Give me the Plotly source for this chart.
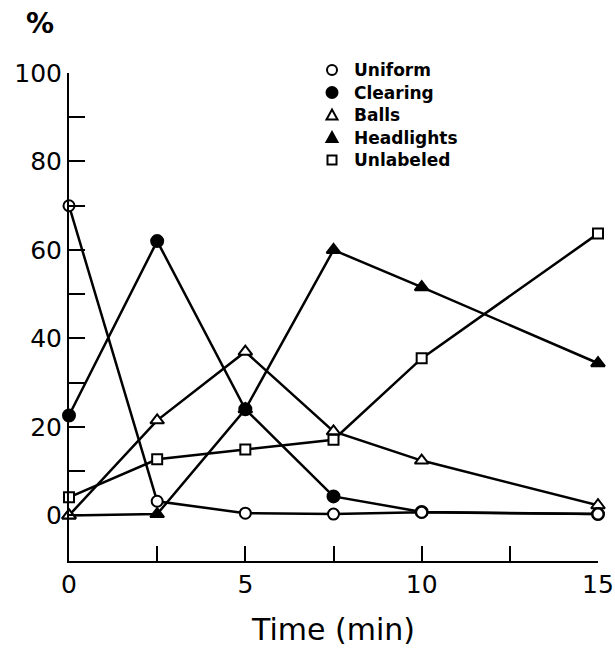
import plotly.graph_objects as go

time_min = [0, 2.5, 5, 7.5, 10, 15]
uniform = [70, 3.2, 0.5, 0.3, 0.7, 0.3]
clearing = [22.6, 62, 24, 4.3, 0.8, 0.3]
balls = [0, 21.5, 37, 19, 12.4, 2.3]
headlights = [0, 0.3, 24, 60, 51.6, 34.4]
unlabeled = [4.1, 12.7, 14.9, 17.1, 35.5, 63.7]

series_names = ["Uniform", "Clearing", "Balls", "Headlights", "Unlabeled"]
x_tickvals = [0, 2.5, 5, 7.5, 10, 12.5, 15]
x_ticktext = ["0", "", "5", "", "10", "", "15"]
y_tickvals = [0, 10, 20, 30, 40, 50, 60, 70, 80, 90, 100]
y_ticktext = ["0", "", "20", "", "40", "", "60", "", "80", "", "100"]

styles = {
    "Uniform": dict(symbol="circle", color="white", size=11),
    "Clearing": dict(symbol="circle", color="black", size=12),
    "Balls": dict(symbol="triangle-up", color="white", size=12),
    "Headlights": dict(symbol="triangle-up", color="black", size=12),
    "Unlabeled": dict(symbol="square", color="white", size=10),
}
data = {
    "Uniform": uniform,
    "Clearing": clearing,
    "Balls": balls,
    "Headlights": headlights,
    "Unlabeled": unlabeled,
}

W, H = 615, 648
ML, MR, MT, MB = 69, 17, 73, 87
PW, PH = W - ML - MR, H - MT - MB


def px_x(px):
    return (px - ML) / PW


def px_y(py):
    return 1 - (py - MT) / PH


fig = go.Figure()
for name in ["Unlabeled", "Headlights", "Balls", "Clearing", "Uniform"]:
    st = styles[name]
    fig.add_trace(go.Scatter(
        x=time_min, y=data[name], mode="lines+markers", showlegend=False,
        line=dict(color="black", width=2.5),
        marker=dict(symbol=st["symbol"], color=st["color"], size=st["size"],
                    line=dict(color="black", width=2)),
        cliponaxis=False,
    ))

# legend key: small pixel-sized shapes, text as annotations
leg_x = 332
leg_rows = [70, 92.5, 115, 137.5, 160]
key_paths = {
    "triangle-up": "M -5.5,-4.5 L 5.5,-4.5 L 0,5.5 Z",
    "square": "M -4.5,-4.5 L 4.5,-4.5 L 4.5,4.5 L -4.5,4.5 Z",
}
shapes = []
for name, row in zip(series_names, leg_rows):
    st = styles[name]
    common = dict(xref="paper", yref="paper", xsizemode="pixel", ysizemode="pixel",
                  xanchor=px_x(leg_x), yanchor=px_y(row),
                  line=dict(color="black", width=2), fillcolor=st["color"])
    if st["symbol"] == "circle":
        r = 5 if st["color"] == "white" else 5.5
        shapes.append(dict(type="circle", x0=-r, x1=r, y0=-r, y1=r, **common))
    else:
        shapes.append(dict(type="path", path=key_paths[st["symbol"]], **common))

annotations = [dict(text="<b>%</b>", x=px_x(40), y=px_y(24), xref="paper", yref="paper",
                    showarrow=False, font=dict(size=28), xanchor="center", yanchor="middle")]
for name, row in zip(series_names, leg_rows):
    annotations.append(dict(text="<b>" + name + "</b>", x=px_x(352), y=px_y(row),
                            xref="paper", yref="paper", showarrow=False,
                            xanchor="left", yanchor="middle",
                            font=dict(size=17)))

fig.update_layout(
    width=W, height=H,
    margin=dict(l=ML, r=MR, t=MT, b=MB),
    paper_bgcolor="white", plot_bgcolor="white",
    font=dict(family="DejaVu Sans", color="black"),
    showlegend=False,
    xaxis=dict(range=[0, 15], tickvals=x_tickvals, ticktext=x_ticktext,
               ticks="inside", ticklen=15, tickwidth=2, tickcolor="black",
               showline=True, linecolor="black", linewidth=2,
               showgrid=False, zeroline=False, automargin=False,
               tickfont=dict(size=25),
               title=dict(text="Time (min)", font=dict(size=30), standoff=21)),
    yaxis=dict(range=[-10.3, 100], tickvals=y_tickvals, ticktext=y_ticktext,
               ticks="inside", ticklen=16, tickwidth=2, tickcolor="black",
               showline=True, linecolor="black", linewidth=2,
               showgrid=False, zeroline=False, automargin=False,
               tickfont=dict(size=25)),
    shapes=shapes,
    annotations=annotations,
)

fig.write_html("out.html",
               config={"displayModeBar": False},
               post_script="document.body.style.margin='0';document.body.style.overflow='hidden';")
